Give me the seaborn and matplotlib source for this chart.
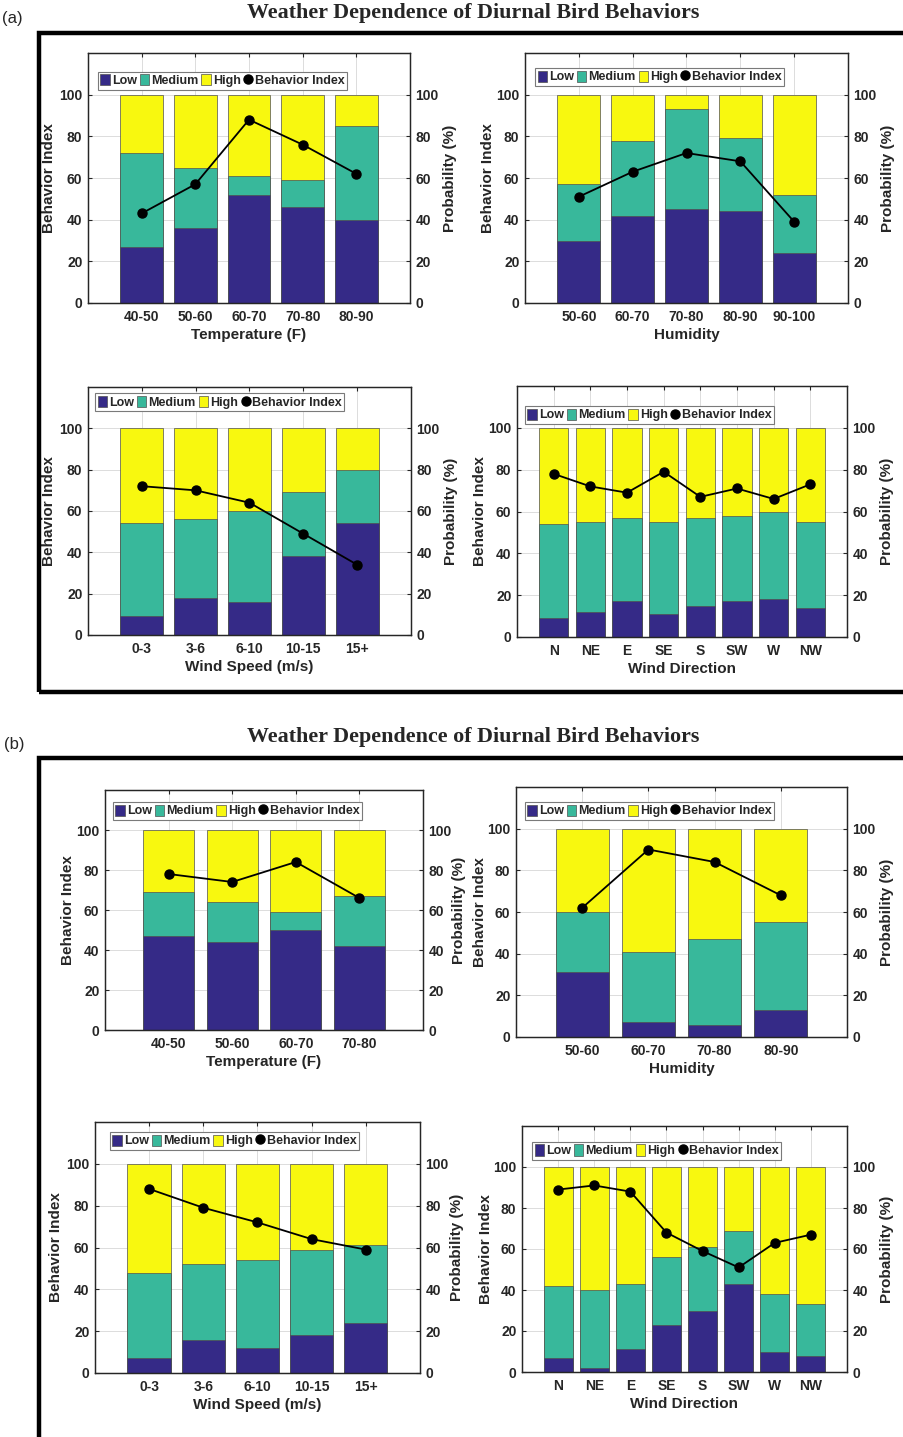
import numpy as np
import matplotlib
matplotlib.use("Agg")
import matplotlib.pyplot as plt
from matplotlib.patches import Patch, Rectangle
from matplotlib.lines import Line2D
import seaborn as sns

sns.set_style("white")
plt.rcParams['font.family'] = ['Liberation Sans', 'DejaVu Sans']

# ---------------- data ----------------
temp_a = ["40-50", "50-60", "60-70", "70-80", "80-90"]
temp_a_low = [27, 36, 52, 46, 40]
temp_a_med = [45, 29, 9, 13, 45]
temp_a_high = [28, 35, 39, 41, 15]
temp_a_bi = [43, 57, 88, 76, 62]

hum_a = ["50-60", "60-70", "70-80", "80-90", "90-100"]
hum_a_low = [30, 42, 45, 44, 24]
hum_a_med = [27, 36, 48, 35, 28]
hum_a_high = [43, 22, 7, 21, 48]
hum_a_bi = [51, 63, 72, 68, 39]

ws_a = ["0-3", "3-6", "6-10", "10-15", "15+"]
ws_a_low = [9, 18, 16, 38, 54]
ws_a_med = [45, 38, 44, 31, 26]
ws_a_high = [46, 44, 40, 31, 20]
ws_a_bi = [72, 70, 64, 49, 34]

wd_a = ["N", "NE", "E", "SE", "S", "SW", "W", "NW"]
wd_a_low = [9, 12, 17, 11, 15, 17, 18, 14]
wd_a_med = [45, 43, 40, 44, 42, 41, 42, 41]
wd_a_high = [46, 45, 43, 45, 43, 42, 40, 45]
wd_a_bi = [78, 72, 69, 79, 67, 71, 66, 73]

temp_b = ["40-50", "50-60", "60-70", "70-80"]
temp_b_low = [47, 44, 50, 42]
temp_b_med = [22, 20, 9, 25]
temp_b_high = [31, 36, 41, 33]
temp_b_bi = [78, 74, 84, 66]

hum_b = ["50-60", "60-70", "70-80", "80-90"]
hum_b_low = [31, 7, 6, 13]
hum_b_med = [29, 34, 41, 42]
hum_b_high = [40, 59, 53, 45]
hum_b_bi = [62, 90, 84, 68]

ws_b = ["0-3", "3-6", "6-10", "10-15", "15+"]
ws_b_low = [7, 16, 12, 18, 24]
ws_b_med = [41, 36, 42, 41, 37]
ws_b_high = [52, 48, 46, 41, 39]
ws_b_bi = [88, 79, 72, 64, 59]

wd_b = ["N", "NE", "E", "SE", "S", "SW", "W", "NW"]
wd_b_low = [7, 2, 11, 23, 30, 43, 10, 8]
wd_b_med = [35, 38, 32, 33, 31, 26, 28, 25]
wd_b_high = [58, 60, 57, 44, 39, 31, 62, 67]
wd_b_bi = [89, 91, 88, 68, 59, 51, 63, 67]

series_names = ["Low", "Medium", "High", "Behavior Index"]
title_text = "Weather Dependence of Diurnal Bird Behaviors"

# ---------------- style ----------------
C_LOW = "#352A87"
C_MED = "#38B89B"
C_HIGH = "#F8F80F"
EDGE = "#505050"
AX_COL = "#262626"

W, H = 904, 1437
fig = plt.figure(figsize=(W / 100, H / 100), dpi=100)


def rect(x0, x1, y0, top):
    return [x0 / W, 1 - y0 / H, (x1 - x0) / W, (y0 - top) / H]


def panel(pos, cats, low, med, high, bi, xlabel, leg_x, leg_top, lpad=1.5, rpad=2.5):
    ax = fig.add_axes(rect(*pos))
    n = len(cats)
    low = np.array(low, float)
    med = np.array(med, float)
    high = np.array(high, float)
    tot_lm = low + med
    tot = low + med + high
    sns.barplot(x=cats, y=tot, color=C_HIGH, saturation=1, width=0.8,
                edgecolor=EDGE, linewidth=0.5, ax=ax, zorder=2)
    sns.barplot(x=cats, y=tot_lm, color=C_MED, saturation=1, width=0.8,
                edgecolor=EDGE, linewidth=0.5, ax=ax, zorder=2)
    sns.barplot(x=cats, y=low, color=C_LOW, saturation=1, width=0.8,
                edgecolor=EDGE, linewidth=0.5, ax=ax, zorder=2)
    ax2 = ax.twinx()
    ax2.plot(np.arange(n), bi, color="black", lw=1.3, marker="o",
             markersize=6.5, zorder=5)

    for a in (ax, ax2):
        a.set_ylim(0, 120)
        a.set_yticks([0, 20, 40, 60, 80, 100])
        for s in a.spines.values():
            s.set_color(AX_COL)
            s.set_linewidth(0.9)
    ax.set_xlim(-1, n)
    ax.set_xticks(np.arange(n))
    ax.set_xticklabels(cats)
    ax.set_axisbelow(True)
    ax.grid(True, color="#dcdcdc", lw=0.7, zorder=0)
    ax.tick_params(axis="both", direction="in", length=3, width=0.8,
                   colors=AX_COL, labelsize=10, pad=4)
    ax.tick_params(axis="x", top=True, pad=5)
    ax2.tick_params(axis="y", direction="in", length=3, width=0.8,
                    colors=AX_COL, labelsize=10, pad=4)
    for lab in ax.get_xticklabels() + ax.get_yticklabels() + ax2.get_yticklabels():
        lab.set_fontweight("bold")
        lab.set_color(AX_COL)
    ax.set_xlabel(xlabel, fontsize=11, fontweight="bold", color=AX_COL, labelpad=3)
    ax.set_ylabel("Behavior Index", fontsize=11, fontweight="bold", color=AX_COL, labelpad=lpad)
    ax2.set_ylabel("Probability (%)", fontsize=11, fontweight="bold", color=AX_COL, labelpad=rpad)

    handles = [Patch(facecolor=C_LOW, edgecolor=EDGE, lw=0.5),
               Patch(facecolor=C_MED, edgecolor=EDGE, lw=0.5),
               Patch(facecolor=C_HIGH, edgecolor=EDGE, lw=0.5),
               Line2D([], [], color="black", marker="o", lw=0, markersize=6.5)]
    leg = ax2.legend(handles, series_names, loc="upper left",
                     bbox_to_anchor=(leg_x, leg_top), ncol=4, frameon=True,
                     fancybox=False, framealpha=1, edgecolor="#7a7a7a",
                     prop={"weight": "bold", "size": 9.0},
                     handlelength=0.75, handleheight=1.0, handletextpad=0.15,
                     columnspacing=0.25, borderpad=0.2, borderaxespad=0)
    leg.get_frame().set_linewidth(0.8)
    return ax


# panel (a)
panel((88, 410, 303, 53), temp_a, temp_a_low, temp_a_med, temp_a_high, temp_a_bi,
      "Temperature (F)", 0.031, 0.925, lpad=2, rpad=3)
panel((525, 848, 303, 53), hum_a, hum_a_low, hum_a_med, hum_a_high, hum_a_bi,
      "Humidity", 0.031, 0.94, lpad=1, rpad=3)
panel((88, 411, 635, 387), ws_a, ws_a_low, ws_a_med, ws_a_high, ws_a_bi,
      "Wind Speed (m/s)", 0.022, 0.975, lpad=2, rpad=3)
panel((517, 847, 637, 386), wd_a, wd_a_low, wd_a_med, wd_a_high, wd_a_bi,
      "Wind Direction", 0.024, 0.92, lpad=1, rpad=3)
# panel (b)
panel((105, 423, 1030, 790), temp_b, temp_b_low, temp_b_med, temp_b_high, temp_b_bi,
      "Temperature (F)", 0.025, 0.95, lpad=1, rpad=0)
panel((516, 847, 1037, 787), hum_b, hum_b_low, hum_b_med, hum_b_high, hum_b_bi,
      "Humidity", 0.027, 0.94, lpad=0, rpad=3)
panel((95, 420, 1373, 1122), ws_b, ws_b_low, ws_b_med, ws_b_high, ws_b_bi,
      "Wind Speed (m/s)", 0.046, 0.96, lpad=2, rpad=1)
panel((522, 847, 1372, 1126), wd_b, wd_b_low, wd_b_med, wd_b_high, wd_b_bi,
      "Wind Direction", 0.031, 0.935, lpad=0, rpad=3)

# frames
fig.patches.append(Rectangle((39 / W, 1 - 692 / H), (W + 20 - 39) / W, (692 - 33) / H,
                             transform=fig.transFigure, fill=False, lw=3.2,
                             edgecolor="black", clip_on=False))
fig.patches.append(Rectangle((39 / W, 1 - (H + 20) / H), (W + 20 - 39) / W, (H + 20 - 758) / H,
                             transform=fig.transFigure, fill=False, lw=3.2,
                             edgecolor="black", clip_on=False))

# titles
serif = ['Liberation Serif', 'DejaVu Serif']
fig.text(473 / W, 1 - 13 / H, title_text, ha="center", va="center",
         family=serif, fontweight="bold", fontsize=15.8)
fig.text(473 / W, 1 - 737 / H, title_text, ha="center", va="center",
         family=serif, fontweight="bold", fontsize=15.8)
fig.text(2 / W, 1 - 18 / H, "(a)", ha="left", va="center", fontsize=12)
fig.text(4 / W, 1 - 745 / H, "(b)", ha="left", va="center", fontsize=12)

fig.savefig("out.png", dpi=100)
